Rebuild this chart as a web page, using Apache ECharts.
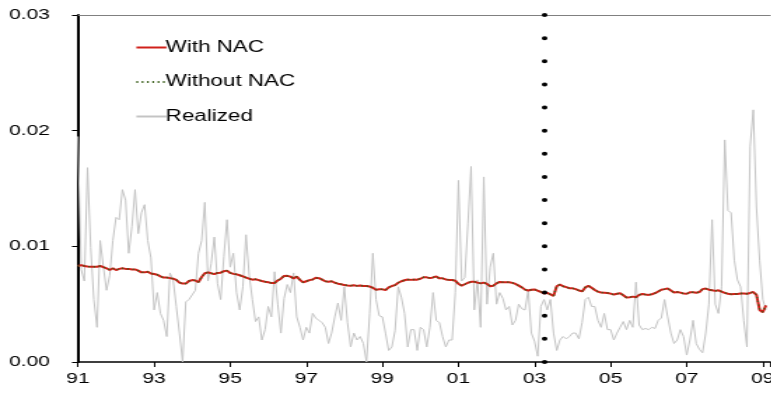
<!DOCTYPE html>
<html>
<head>
<meta charset="utf-8">
<script src="https://cdn.jsdelivr.net/npm/echarts@6/dist/echarts.min.js"></script>
<style>
  html, body { margin: 0; padding: 0; background: #fff; overflow: hidden; }
  #wrap { width: 771px; height: 396px; overflow: hidden; }
  #chart { height: 396px; transform-origin: 0 0; }
</style>
</head>
<body>
<div id="wrap"><div id="chart"></div></div>
<script>
// Monthly volatility series from Jan 1991; values in units of 0.001.
const realized = [
  19.5, 8.0, 7.0, 16.8, 9.9, 5.4, 3.0, 10.5, 8.2, 6.2,
  7.5, 10.5, 12.5, 12.3, 14.9, 14.0, 9.4, 11.7, 14.9, 11.1,
  12.9, 13.6, 10.5, 9.0, 4.5, 6.0, 4.2, 3.6, 2.2, 7.7,
  7.1, 4.8, 2.5, 0.0, 5.2, 5.4, 5.8, 6.2, 9.4, 10.5,
  13.8, 7.0, 8.5, 10.8, 6.8, 5.4, 9.1, 12.3, 8.2, 9.4,
  6.0, 4.5, 6.5, 11.0, 7.5, 5.4, 3.5, 3.9, 1.9, 2.8,
  4.8, 3.9, 7.8, 5.0, 2.5, 5.5, 6.7, 6.0, 7.7, 3.9,
  3.0, 1.9, 3.0, 2.5, 4.2, 3.8, 3.6, 3.4, 3.0, 1.6,
  2.5, 3.9, 5.1, 3.6, 6.5, 3.4, 1.3, 2.5, 1.9, 2.2,
  1.6, 0.0, 4.2, 9.4, 5.4, 4.0, 3.9, 2.5, 1.0, 1.3,
  2.7, 6.5, 5.6, 4.2, 1.3, 2.8, 2.8, 1.0, 3.0, 2.8,
  1.3, 3.0, 6.0, 3.6, 3.4, 2.2, 1.3, 1.9, 1.9, 6.0,
  15.7, 7.0, 7.3, 12.0, 16.9, 4.5, 7.1, 3.0, 16.0, 5.0,
  8.2, 9.4, 5.0, 6.0, 5.5, 4.5, 4.8, 3.2, 3.6, 5.0,
  4.6, 4.5, 6.2, 2.5, 1.8, 0.5, 4.8, 5.4, 4.5, 5.4,
  2.5, 1.0, 1.9, 2.2, 2.0, 2.2, 2.5, 2.5, 2.0, 3.4,
  5.4, 5.6, 4.8, 4.8, 3.6, 3.0, 4.2, 2.8, 2.8, 1.9,
  2.5, 3.0, 3.5, 2.8, 3.6, 3.0, 6.9, 3.2, 2.8, 2.9,
  2.8, 3.0, 2.9, 3.6, 3.8, 5.4, 3.9, 2.5, 1.6, 1.9,
  2.8, 2.2, 0.6, 1.9, 3.6, 1.6, 1.1, 0.8, 2.5, 5.0,
  12.3, 5.0, 4.2, 6.5, 19.2, 13.1, 12.9, 8.8, 7.1, 6.5,
  3.6, 1.3, 18.6, 21.8, 13.4, 8.8, 5.4, 4.5
];

const withNac = [
  8.30, 8.38, 8.30, 8.25, 8.24, 8.24, 8.24, 8.30, 8.20, 8.10,
  7.95, 8.10, 7.95, 8.05, 8.10, 8.05, 8.05, 8.00, 8.00, 7.90,
  7.75, 7.75, 7.80, 7.65, 7.60, 7.55, 7.40, 7.30, 7.30, 7.25,
  7.20, 7.10, 6.87, 6.78, 6.78, 7.00, 7.08, 7.05, 6.90, 7.35,
  7.67, 7.75, 7.67, 7.60, 7.70, 7.72, 7.85, 7.90, 7.70, 7.62,
  7.58, 7.50, 7.40, 7.30, 7.20, 7.12, 7.15, 7.08, 7.00, 6.94,
  6.90, 6.82, 6.83, 7.05, 7.20, 7.44, 7.45, 7.38, 7.23, 7.38,
  7.10, 6.88, 6.98, 7.08, 7.13, 7.28, 7.25, 7.12, 6.98, 6.94,
  6.98, 6.85, 6.77, 6.72, 6.65, 6.62, 6.60, 6.63, 6.58, 6.62,
  6.57, 6.57, 6.52, 6.42, 6.25, 6.28, 6.28, 6.22, 6.45, 6.57,
  6.65, 6.85, 6.98, 7.07, 7.13, 7.10, 7.13, 7.12, 7.20, 7.33,
  7.32, 7.25, 7.31, 7.40, 7.23, 7.23, 7.14, 7.10, 7.09, 7.03,
  6.76, 6.60, 6.72, 6.85, 6.93, 6.94, 6.86, 6.80, 6.86, 6.75,
  6.55, 6.60, 6.80, 6.92, 6.90, 6.90, 6.90, 6.84, 6.75, 6.60,
  6.45, 6.26, 6.18, 6.24, 6.27, 6.16, 6.06, 5.92, 5.98, 5.85,
  5.72, 6.55, 6.70, 6.55, 6.47, 6.38, 6.37, 6.30, 6.18, 6.10,
  6.45, 6.58, 6.42, 6.22, 6.08, 6.00, 5.99, 5.97, 5.91, 5.83,
  5.90, 5.95, 5.77, 5.57, 5.60, 5.65, 5.60, 5.80, 5.88, 5.83,
  5.80, 5.86, 5.95, 6.10, 6.25, 6.30, 6.36, 6.18, 6.00, 6.05,
  6.00, 5.92, 5.90, 6.02, 6.03, 5.99, 6.05, 6.30, 6.35, 6.25,
  6.20, 6.15, 6.20, 6.08, 5.98, 5.90, 5.86, 5.88, 5.88, 5.92,
  5.93, 5.90, 5.97, 6.05, 5.80, 4.50, 4.30, 4.90
];

const withoutNac = [
  8.30, 8.37, 8.31, 8.25, 8.24, 8.23, 8.25, 8.30, 8.20, 8.10,
  7.96, 8.09, 7.95, 8.05, 8.10, 8.05, 8.04, 8.00, 8.00, 7.90,
  7.75, 7.76, 7.80, 7.65, 7.60, 7.55, 7.40, 7.31, 7.30, 7.25,
  7.20, 7.10, 6.87, 6.79, 6.78, 7.00, 7.08, 7.05, 6.90, 7.35,
  7.67, 7.75, 7.67, 7.61, 7.70, 7.72, 7.85, 7.90, 7.70, 7.62,
  7.58, 7.50, 7.40, 7.30, 7.20, 7.12, 7.15, 7.08, 7.00, 6.94,
  6.90, 6.82, 6.83, 7.05, 7.20, 7.44, 7.45, 7.38, 7.23, 7.38,
  7.10, 6.88, 6.98, 7.08, 7.13, 7.28, 7.25, 7.12, 6.98, 6.94,
  6.98, 6.85, 6.77, 6.72, 6.65, 6.62, 6.60, 6.63, 6.58, 6.62,
  6.57, 6.57, 6.52, 6.42, 6.25, 6.28, 6.28, 6.22, 6.45, 6.57,
  6.65, 6.85, 6.98, 7.07, 7.13, 7.10, 7.13, 7.12, 7.20, 7.33,
  7.32, 7.25, 7.31, 7.40, 7.23, 7.23, 7.14, 7.10, 7.09, 7.03,
  6.76, 6.60, 6.72, 6.85, 6.93, 6.94, 6.86, 6.80, 6.86, 6.75,
  6.55, 6.60, 6.80, 6.92, 6.90, 6.90, 6.90, 6.84, 6.75, 6.60,
  6.45, 6.26, 6.18, 6.24, 6.27, 6.16, 6.06, 5.92, 5.98, 5.85,
  5.72, 6.55, 6.70, 6.55, 6.47, 6.38, 6.37, 6.30, 6.18, 6.10,
  6.45, 6.58, 6.42, 6.22, 6.08, 6.00, 5.99, 5.97, 5.91, 5.83,
  5.90, 5.95, 5.77, 5.57, 5.60, 5.65, 5.60, 5.80, 5.88, 5.83,
  5.80, 5.86, 5.95, 6.10, 6.25, 6.30, 6.36, 6.18, 6.00, 6.05,
  6.00, 5.92, 5.90, 6.02, 6.03, 5.99, 6.05, 6.30, 6.35, 6.25,
  6.20, 6.15, 6.20, 6.08, 5.98, 5.90, 5.86, 5.88, 5.88, 5.92,
  5.93, 5.90, 5.97, 6.05, 5.82, 4.55, 4.32, 4.88
];

const seriesNames = ['With NAC', 'Without NAC', 'Realized'];
const yearLabels = ['91', '93', '95', '97', '99', '01', '03', '05', '07', '09'];
const valueLabels = ['0.00', '0.01', '0.02', '0.03'];
const sampleStep = 1 / 12;  // one sample per month
const breakPoint = 12.25;   // years after Jan 1991 (spring 2003)
const spanYears = 18.2;     // visible span of the time axis

// The figure is laid out narrow and stretched horizontally.
const STRETCH = 1.4;
const FONT = "'Liberation Sans', Arial, sans-serif";
const el = document.getElementById('chart');
el.style.width = (771 / STRETCH) + 'px';
el.style.transform = 'scaleX(' + STRETCH + ')';

const toPoints = arr => arr.map((v, i) => [i * sampleStep, v]);

const chart = echarts.init(el, null, { renderer: 'canvas' });
chart.setOption({
  animation: false,
  backgroundColor: '#fff',
  grid: {
    left: 78 / STRETCH, right: 1 / STRETCH, top: 15, bottom: 34,
    containLabel: false, outerBoundsMode: 'none'
  },
  legend: {
    data: seriesNames,
    orient: 'vertical',
    left: 135 / STRETCH,
    top: 39.5,
    padding: 0,
    itemWidth: 30 / STRETCH,
    itemHeight: 10,
    itemGap: 18.5,
    itemStyle: { opacity: 0 },
    textStyle: { fontSize: 16, color: '#000', fontFamily: FONT, padding: [0, 0, 0, -5.5] },
    selectedMode: false
  },
  xAxis: [
    {
      type: 'value', min: 0, max: spanYears, interval: 2,
      axisLine: { show: true, lineStyle: { color: '#000', width: 1.5 } },
      axisTick: { show: true, length: 5, lineStyle: { color: '#000', width: 1 } },
      splitLine: { show: false },
      axisLabel: {
        fontSize: 15, color: '#000', fontFamily: FONT, margin: 9,
        hideOverlap: false,
        formatter: v => {
          const k = Math.round(v / 2);
          return Math.abs(v - 2 * k) < 1e-6 ? (yearLabels[k] || '') : '';
        }
      }
    },
    {
      type: 'value', min: 0, max: spanYears, position: 'top',
      axisLine: { show: true, onZero: false, lineStyle: { color: '#808080', width: 1 } },
      axisTick: { show: false }, axisLabel: { show: false }, splitLine: { show: false }
    }
  ],
  yAxis: {
    type: 'value', min: 0, max: 30, interval: 10,
    axisLine: { show: true, lineStyle: { color: '#000', width: 2 } },
    axisTick: { show: true, length: 6 / STRETCH, lineStyle: { color: '#000', width: 1 } },
    splitLine: { show: false },
    axisLabel: {
      fontSize: 15, color: '#000', fontFamily: FONT, margin: 20,
      formatter: v => valueLabels[Math.round(v / 10)]
    }
  },
  series: [
    {
      name: 'Realized', type: 'line', symbol: 'none', z: 1,
      data: toPoints(realized),
      lineStyle: { color: '#c4c4c4', width: 1 },
      itemStyle: { color: '#c4c4c4' }
    },
    {
      name: 'With NAC', type: 'line', symbol: 'none', z: 2,
      data: toPoints(withNac),
      lineStyle: { color: '#d0201a', width: 2 },
      itemStyle: { color: '#d0201a' }
    },
    {
      name: 'Without NAC', type: 'line', symbol: 'none', z: 3,
      data: toPoints(withoutNac),
      lineStyle: { color: '#3a5f1a', width: 1.3, type: [1.2, 2.6] },
      itemStyle: { color: '#3a5f1a' },
      markLine: {
        silent: true, symbol: ['none', 'none'], label: { show: false },
        lineStyle: { color: '#000', width: 4, type: [0, 347 / 15], cap: 'round' },
        emphasis: { disabled: true },
        data: [[{ coord: [breakPoint, 0] }, { coord: [breakPoint, 30] }]]
      }
    }
  ]
});
</script>
</body>
</html>
